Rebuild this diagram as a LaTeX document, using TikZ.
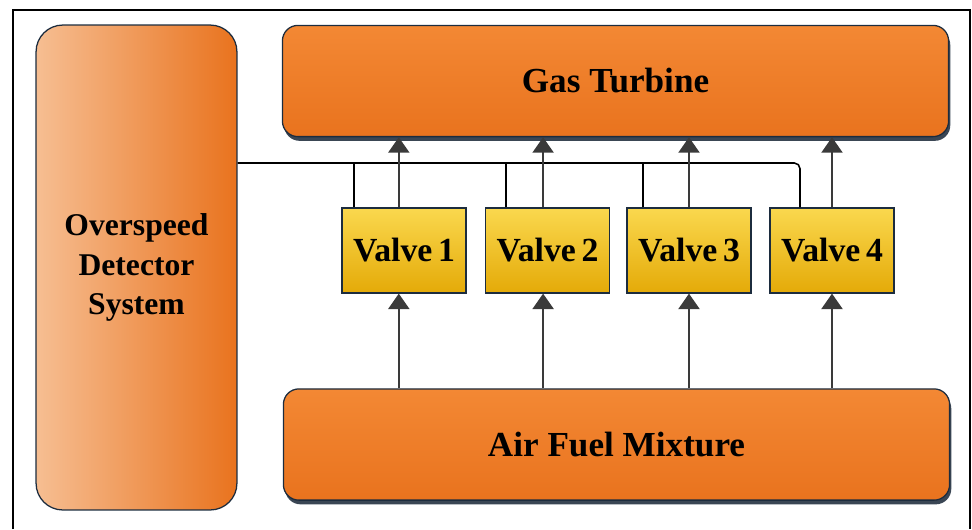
\documentclass[tikz,border=0pt]{standalone}
\usepackage{fontspec}
\setmainfont{Liberation Serif}
\usepackage{tikz}
\usetikzlibrary{positioning, arrows.meta, shadows}
\definecolor{BoxOrange}{RGB}{243,136,52}
\definecolor{BoxOrangeDark}{RGB}{233,115,30}
\definecolor{BoxPeach}{RGB}{246,190,146}
\definecolor{ValveTop}{RGB}{250,216,78}
\definecolor{ValveBot}{RGB}{228,170,8}
\definecolor{EdgeNavy}{RGB}{28,44,62}
\definecolor{ShadowGrey}{RGB}{58,70,84}
\definecolor{ArrowGrey}{RGB}{58,58,58}

\begin{document}
\begin{tikzpicture}[x=0.025cm, y=-0.025cm,
      block/.style={rectangle, draw=EdgeNavy, line width=0.9pt,
                    align=center, font=\fontsize{22.5}{28}\selectfont\bfseries},
      big/.style={block, rounded corners=11pt,
                  top color=BoxOrange, bottom color=BoxOrangeDark,
                  minimum width=16.65cm, minimum height=2.78cm,
                  font=\fontsize{25}{30}\selectfont\bfseries,
                  drop shadow={shadow xshift=1.2pt, shadow yshift=-3pt,
                               fill=ShadowGrey, opacity=1}},
      valve/.style={block, line width=1pt,
                    top color=ValveTop, bottom color=ValveBot,
                    minimum width=3.1cm, minimum height=2.12cm,
                    font=\fontsize{24}{28}\selectfont\bfseries},
      arr/.style={draw=ArrowGrey, line width=1.4pt,
                  -{Triangle[width=15pt, length=11pt]}},
      bus/.style={draw=black, line width=1.1pt}
    ]
    % Frame
    \useasboundingbox (0,0) rectangle (972,529);
    \draw[line width=1pt] (13,529) -- (13,10) -- (970,10) -- (970,529);

    % Boxes
    \node[block, rounded corners=19pt, left color=BoxPeach, right color=BoxOrangeDark,
          minimum width=5.02cm, minimum height=12.12cm] (osd) at (136.5,267.5)
        {Overspeed\\Detector\\System};
    \node[big] (gt)  at (615.5,81)  {Gas Turbine};
    \node[big] (afm) at (616.5,444.5) {Air Fuel Mixture};

    % Valves
    \node[valve] (v1) at (404,250.5)   {Valve\,1};
    \node[valve] (v2) at (547.5,250.5) {Valve\,2};
    \node[valve] (v3) at (689,250.5)   {Valve\,3};
    \node[valve] (v4) at (832,250.5)   {Valve\,4};

    % Signal bus
    \coordinate (bus) at (800,163);
    \draw[bus, rounded corners=4pt] (osd.east |- bus) -- (bus) -- (v4.north -| bus);
    \foreach \v/\dx in {v1/-1.25cm, v2/-1.04cm, v3/-1.15cm}
        \draw[bus] ([xshift=\dx]\v.north) -- ([xshift=\dx]\v.north |- bus);

    % Flow arrows
    \foreach \v/\sx in {v1/-0.13cm, v2/-0.11cm, v3/0cm, v4/0cm}{
        \draw[arr] ([xshift=\sx]\v.north) -- ([xshift=\sx]\v.north |- gt.south);
        \draw[arr] ([xshift=\sx]\v.south |- afm.north) -- ([xshift=\sx]\v.south);
    }
  \end{tikzpicture}
\end{document}
